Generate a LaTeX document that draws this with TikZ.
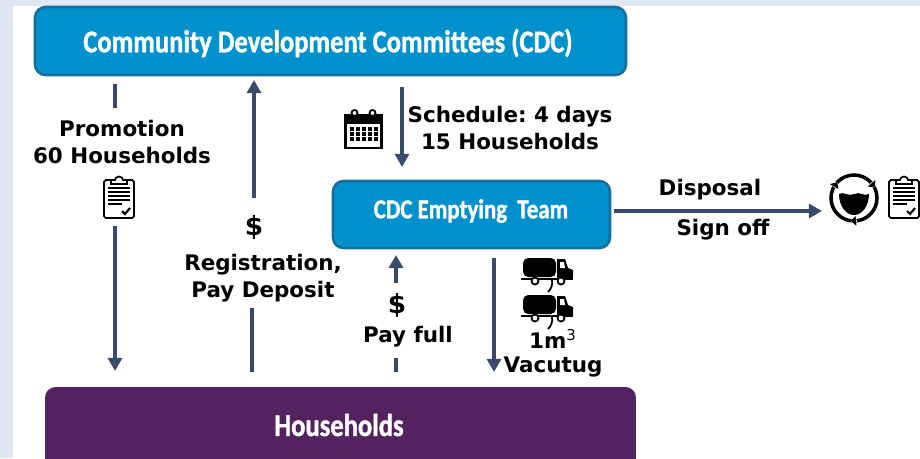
\documentclass[tikz,border=0pt]{standalone}
\usepackage{fontspec}
\setmainfont{DejaVu Sans}
\newfontfamily\boxfont[FakeStretch=0.84,BoldFeatures={FakeStretch=0.84,FakeBold=1.2}]{Carlito}
\usetikzlibrary{arrows.meta,positioning}
\definecolor{pagebg}{HTML}{DEE7F2}
\definecolor{cdcblue}{HTML}{0090CB}
\definecolor{cdcedge}{HTML}{13709E}
\definecolor{hhpurple}{HTML}{52235F}
\definecolor{flowcol}{HTML}{3B4A6B}
\tikzset{
  bluebox/.style={draw=cdcedge,line width=1.5pt,fill=cdcblue,rounded corners=6pt,text=white,inner sep=0pt},
  flow/.style={draw=flowcol,line width=2.1pt},
  flowtip/.style={flow,-{Triangle[length=7.5pt,width=8pt]}},
  lbl/.style={font=\bfseries\fontsize{12.2}{14}\selectfont,align=center,inner sep=0pt},
  pics/clipboard/.style={code={
    \draw[black,line width=1pt,rounded corners=1pt,fill=white] (-15,-17) rectangle (15,21);
    \draw[black,line width=1pt,fill=white] (-8,-13) -- (-8,-17) -- (-4,-17) arc (180:360:4 and 3.5) -- (8,-17) -- (8,-13) -- cycle;
    \foreach \ly in {-9,-5,-1,3} \draw[black,line width=.8pt] (-11,\ly) -- (11,\ly);
    \draw[black,line width=.8pt] (-11,7) -- (3,7);
    \draw[black,line width=1.2pt] (3,14) -- (6,17) -- (11,11);
  }},
  pics/calendar/.style={code={
    \draw[black,line width=1.5pt,fill=white] (-18,-14) rectangle (18,19);
    \fill[black] (-18,-14) rectangle (18,-5);
    \foreach \lx in {-9,9} \draw[black,line width=1pt,fill=white] (\lx,-16) circle (3);
    \foreach \lx in {-12,-6,0,6,12} \foreach \ly in {0,5,10} \fill[black] (\lx-2,\ly-1.7) rectangle (\lx+2,\ly+1.7);
  }},
  pics/vacutruck/.style={code={
    \fill[black,rounded corners=3pt] (-24,-14) rectangle (9,5);
    \fill[black] (10,-13) -- (18,-13) -- (21,-4) -- (26,-2) -- (26,6) -- (10,6) -- cycle;
    \fill[white] (13,-10) -- (17,-10) -- (18,-4) -- (13,-4) -- cycle;
    \draw[black,line width=1pt] (-26,7) -- (26,7);
    \foreach \lx in {-12,14} \draw[black,line width=1pt,fill=white] (\lx,9) circle (3.5);
    \draw[black,line width=1pt] (5,8) .. controls (6,13) and (4,17) .. (1,20);
  }},
  pics/watercycle/.style={code={
    \draw[black,line width=2pt] (0,0) circle (23);
    \foreach \la in {90,325,215} {
      \fill[white] (\la:23) circle (3);
      \fill[black] (\la-5:28) -- (\la-5:18) -- (\la+8:23) -- cycle;
    }
    \fill[black] (-15,-4) .. controls (-10,-7) and (-6,-1) .. (0,-4) .. controls (6,-7) and (10,-1) .. (15,-4) .. controls (15,8) and (8,17) .. (0,17) .. controls (-8,17) and (-15,8) .. (-15,-4) -- cycle;
  }}
}
\begin{document}
\begin{tikzpicture}[x=0.02cm,y=-0.02cm]
  \useasboundingbox (0,0) rectangle (920,458);
  \fill[pagebg] (0,0) rectangle (920,458);
  \fill[white] (13,6) rectangle (920,458);
  % boxes
  \node[bluebox,minimum width=11.82cm,minimum height=1.36cm,text depth=0pt] (cdc) at (330.5,41) {};
  \node[text=white,font=\boxfont\bfseries\fontsize{18}{20}\selectfont] (cdctext) at (328,43) {Community Development Committees (CDC)};
  \node[bluebox,minimum width=5.54cm,minimum height=1.34cm] (team) at (471.5,214.5) {};
  \node[text=white,font=\boxfont\bfseries\fontsize{15.5}{17}\selectfont] (teamtext) at (471,211) {CDC Emptying\ \ Team};
  \begin{scope}
    \clip (0,0) rectangle (920,458);
    \node[bluebox,draw=none,fill=hhpurple,minimum width=11.82cm,minimum height=1.8cm] (hh) at (340.5,432) {};
  \end{scope}
  \node[text=white,font=\boxfont\bfseries\fontsize{18}{20}\selectfont] (hhtext) at (339,425) {Households};
  % labels
  \node[lbl] (promo) at (122,142) {Promotion\\[1.2pt]60 Households};
  \node[lbl] (sched) at (510,128) {Schedule:\ 4 days\\[1.2pt]15 Households};
  \node[lbl,font=\bfseries\fontsize{15}{17}\selectfont] (dollara) at (254,227) {\$};
  \node[lbl] (regis) at (263,278) {Registration,\\[1.2pt]Pay Deposit};
  \node[lbl,font=\bfseries\fontsize{15}{17}\selectfont] (dollarb) at (397,305) {\$};
  \node[lbl] (payfull) at (408,337) {Pay full};
  \node[lbl] (vol) at (553,339) {1m\textsuperscript{\mdseries 3}};
  \node[lbl] (vacu) at (553,367) {Vacutug};
  \node[lbl] (disp) at (710,190) {Disposal};
  \node[lbl] (sign) at (723,230) {Sign off};
  % icons
  \pic at (119,197) {clipboard};
  \pic at (904,197) {clipboard};
  \pic at (363.5,129) {calendar};
  \pic at (547,272) {vacutruck};
  \pic at (547,309) {vacutruck};
  \pic at (854,198) {watercycle};
  % flows
  \coordinate (promoa) at (115,108);
  \coordinate (promob) at (115,226);
  \coordinate (rega) at (254,198);
  \coordinate (regb) at (252,308);
  \coordinate (paya) at (396,283);
  \coordinate (payb) at (396,358);
  \coordinate (dispend) at (822,211);
  \draw[flow] (promoa |- cdc.south) ++(0,8) -- (promoa);
  \draw[flowtip] (promob) -- (115,371);
  \draw[flowtip] (rega) -- (254,80);
  \draw[flow] (regb) -- ++(0,64);
  \draw[flowtip] (402,87) -- (402,167);
  \draw[flowtip] (team.east |- dispend) ++(3,0) -- (dispend);
  \draw[flowtip] (paya) -- ++(0,-28);
  \draw[flow] (payb) -- ++(0,14);
  \draw[flowtip] (494,258) -- (494,372);
\end{tikzpicture}
\end{document}
